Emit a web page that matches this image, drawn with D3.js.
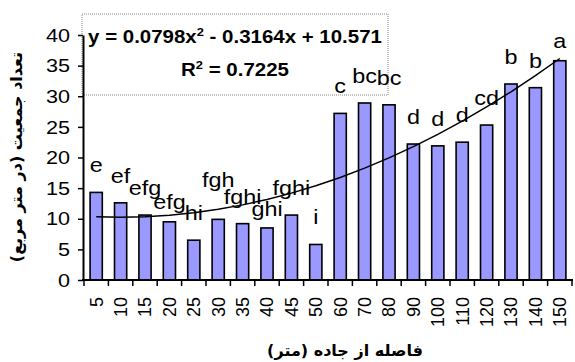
<!DOCTYPE html>
<html>
<head>
<meta charset="utf-8">
<script src="https://cdn.jsdelivr.net/npm/d3@7"></script>
<style>
  html, body { margin: 0; padding: 0; background: #fff; }
  svg { display: block; }
  text { font-family: "Liberation Sans", Arial, sans-serif; fill: #000; }
  .fa { font-family: "DejaVu Sans", "Noto Sans", sans-serif; font-weight: bold; }
</style>
</head>
<body>
<svg id="chart" width="575" height="362"></svg>
<script>
// Distance from road (m) — category labels
const distances = ["5","10","15","20","25","30","35","40","45","50",
                   "60","70","80","90","100","110","120","130","140","150"];
// Population density (per m²)
const density = [14.3, 12.6, 10.6, 9.5, 6.5, 9.9, 9.2, 8.5, 10.6, 5.8,
                 27.2, 28.9, 28.6, 22.2, 21.9, 22.5, 25.3, 32.0, 31.4, 35.8];
// Mean-separation letters
const groups = ["e","ef","efg","efg","hi","fgh","fghi","ghi","fghi","i",
                "c","bc","bc","d","d","d","cd","b","b","a"];
const yTicks = [0, 5, 10, 15, 20, 25, 30, 35, 40];
// Polynomial trendline y = a·x² + b·x + c over category index x = 1..n
const trendCoef = [0.0798, -0.3164, 10.571];
const rSquared = 0.7225;

const yTitle = "تعداد جمعیت (در متر مربع)";
const xTitle = "فاصله از جاده (متر)";

const svg = d3.select("#chart");
const SX = 1.2; // horizontal text stretch

const x = d3.scaleBand().domain(distances).range([84, 572])
  .paddingInner(0.5).paddingOuter(0.25);
const y = d3.scaleLinear().domain([0, 40]).range([280, 35]);

// Equation box
svg.append("rect")
  .attr("x", 82).attr("y", 14).attr("width", 306).attr("height", 81)
  .attr("fill", "none").attr("stroke", "#888").attr("stroke-width", 1)
  .attr("stroke-dasharray", "1,1");

// Bars
svg.append("g").selectAll("rect").data(density).join("rect")
  .attr("x", (d, i) => x(distances[i]))
  .attr("y", d => y(d))
  .attr("width", x.bandwidth())
  .attr("height", d => y(0) - y(d))
  .attr("fill", "#9999ff")
  .attr("stroke", "#000")
  .attr("stroke-width", 1.6);

// Trendline
const trend = distances.map((c, i) => {
  const k = i + 1;
  return [x(c) + x.bandwidth() / 2, y(trendCoef[0] * k * k + trendCoef[1] * k + trendCoef[2])];
});
svg.append("path")
  .attr("d", d3.line()(trend))
  .attr("fill", "none").attr("stroke", "#000").attr("stroke-width", 1.5);

// Letter labels above bars (a few nudged to avoid the trendline/neighbours)
const labelNudge = {3: 7, 5: -12, 7: 8, 19: 7};
svg.append("g").selectAll("text").data(groups).join("text")
  .attr("text-anchor", "middle")
  .attr("font-size", 19.5)
  .attr("transform", (g, i) => {
    const cx = x(distances[i]) + x.bandwidth() / 2;
    const cy = y(density[i]) - 20 + (labelNudge[i] || 0);
    return `translate(${cx},${cy}) scale(${SX},1)`;
  })
  .text(g => g);

// Y axis
const yAxis = svg.append("g").attr("transform", "translate(83,0)")
  .call(d3.axisLeft(y).tickValues(yTicks).tickSize(5).tickSizeOuter(0));
yAxis.attr("font-family", null);
yAxis.select(".domain").attr("stroke", "#000").attr("stroke-width", 2);
yAxis.selectAll(".tick line").attr("stroke", "#000").attr("stroke-width", 1.5);
yAxis.selectAll(".tick text")
  .attr("x", 0).attr("dy", "0.34em")
  .attr("font-size", 18)
  .attr("transform", `translate(-13,0) scale(${SX},1)`);

// X axis line and boundary ticks
svg.append("line")
  .attr("x1", 82).attr("x2", 573).attr("y1", y(0)).attr("y2", y(0))
  .attr("stroke", "#000").attr("stroke-width", 2);
const bounds = d3.range(distances.length + 1).map(i => 84 + i * x.step());
svg.append("g").selectAll("line").data(bounds).join("line")
  .attr("x1", d => d).attr("x2", d => d)
  .attr("y1", y(0)).attr("y2", y(0) + 6)
  .attr("stroke", "#000").attr("stroke-width", 1.5);

// X tick labels, rotated
svg.append("g").selectAll("text").data(distances).join("text")
  .attr("text-anchor", "end")
  .attr("font-size", 18)
  .attr("dy", "0.35em")
  .attr("transform", d => `translate(${x(d) + x.bandwidth() / 2},297) rotate(-90)`)
  .text(d => d);

// Equation text
const eq = svg.append("text")
  .attr("text-anchor", "middle").attr("font-weight", "bold").attr("font-size", 17.5)
  .attr("transform", `translate(235,43) scale(${SX - 0.03},1)`);
eq.append("tspan").text(`y = ${trendCoef[0]}x`);
eq.append("tspan").attr("dy", -7).attr("font-size", 11).text("2");
eq.append("tspan").attr("dy", 7)
  .text(` - ${Math.abs(trendCoef[1])}x + ${trendCoef[2]}`);

const r2 = svg.append("text")
  .attr("text-anchor", "middle").attr("font-weight", "bold").attr("font-size", 17.5)
  .attr("transform", `translate(235,76) scale(${SX - 0.03},1)`);
r2.append("tspan").text("R");
r2.append("tspan").attr("dy", -7).attr("font-size", 11).text("2");
r2.append("tspan").attr("dy", 7).text(` = ${rSquared}`);

// Axis titles
svg.append("text").attr("class", "fa")
  .attr("text-anchor", "middle").attr("font-size", 16)
  .attr("transform", "translate(22,157) rotate(-90)")
  .text(yTitle);
svg.append("text").attr("class", "fa")
  .attr("text-anchor", "middle").attr("font-size", 16)
  .attr("transform", "translate(345,356)")
  .text(xTitle);
</script>
</body>
</html>
